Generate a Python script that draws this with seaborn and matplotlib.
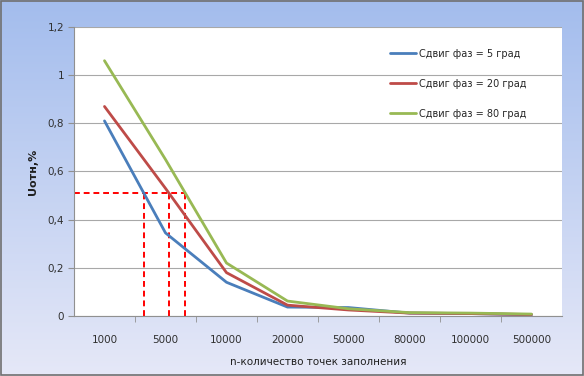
import numpy as np
import pandas as pd
import seaborn as sns
import matplotlib.pyplot as plt
from matplotlib.ticker import FuncFormatter, FixedLocator
from matplotlib.patches import Rectangle

# data
n_labels = ['1000', '5000', '10000', '20000', '50000', '80000', '100000', '500000']
phase_5 = [0.81, 0.345, 0.14, 0.037, 0.035, 0.012, 0.010, 0.005]
phase_20 = [0.87, 0.53, 0.18, 0.045, 0.025, 0.012, 0.010, 0.006]
phase_80 = [1.06, 0.65, 0.22, 0.062, 0.030, 0.014, 0.012, 0.008]
series_names = ['Сдвиг фаз = 5 град', 'Сдвиг фаз = 20 град', 'Сдвиг фаз = 80 град']
level = 0.51

colors = ['#4a7ebb', '#be4b48', '#98b954']


def main():
    sns.set_style('white')
    plt.rcParams['font.family'] = ['DejaVu Sans']

    idx = np.arange(len(n_labels))
    df = pd.DataFrame({
        'x': np.tile(idx, 3),
        'u': phase_5 + phase_20 + phase_80,
        'series': np.repeat(series_names, len(n_labels)),
    })

    fig = plt.figure(figsize=(5.84, 3.76), dpi=100)

    # gradient background
    bg = fig.add_axes([0, 0, 1, 1], zorder=-5)
    grad = np.linspace(0, 1, 256).reshape(-1, 1)
    top = np.array([0.64, 0.74, 0.93])
    bot = np.array([0.90, 0.91, 0.97])
    img = top + (bot - top) * grad[:, :, None]
    bg.imshow(img, aspect='auto', extent=[0, 1, 0, 1])
    bg.set_axis_off()
    fig.patches.append(Rectangle((0.002, 0.003), 0.996, 0.994, transform=fig.transFigure,
                                 fill=False, edgecolor='#707070', lw=1.2))

    ax = fig.add_axes([0.1267, 0.1596, 0.8356, 0.7686])
    ax.set_facecolor('white')
    sns.lineplot(data=df, x='x', y='u', hue='series', hue_order=series_names,
                 palette=colors, linewidth=2.0, ax=ax, legend=True)

    # reference lines at the chosen level
    cross = []
    for vals in (phase_5, phase_20, phase_80):
        cross.append(np.interp(level, np.array(vals)[::-1], idx[::-1]))
    ax.plot([-0.5, max(cross)], [level, level], color='#ff0000', lw=1.4,
            ls=(0, (3, 2)), zorder=1)
    ax.vlines(cross, 0, level, color='#ff0000', lw=1.4, linestyles=(0, (3, 2)), zorder=1)

    ax.set_xlim(-0.5, len(n_labels) - 0.5)
    ax.set_ylim(0, 1.2)
    ax.set_xticks(idx)
    ax.set_xticklabels(n_labels)
    ax.xaxis.set_minor_locator(FixedLocator(idx[:-1] + 0.5))
    ax.tick_params(axis='x', which='major', length=0, pad=14, labelsize=7.5, labelcolor='#303030')
    ax.tick_params(axis='x', which='minor', length=4, color='#909090', direction='out', bottom=True)
    ax.set_yticks(np.arange(0, 1.21, 0.2))
    ax.yaxis.set_major_formatter(FuncFormatter(lambda v, p: f'{v:g}'.replace('.', ',')))
    ax.tick_params(axis='y', length=4, color='#909090', direction='out', left=True,
                   labelsize=7.5, labelcolor='#303030', pad=3)
    ax.grid(axis='y', color='#a8a8a8', lw=0.8)
    ax.set_axisbelow(True)

    for s in ['top', 'right']:
        ax.spines[s].set_visible(False)
    for s in ['left', 'bottom']:
        ax.spines[s].set_color('#909090')
        ax.spines[s].set_linewidth(0.8)

    ax.set_xlabel('n-количество точек заполнения', fontsize=7.5, color='#202020', labelpad=8)
    ax.set_ylabel('Uотн,%', fontsize=8, color='#202020', fontweight='bold', labelpad=7)

    leg = ax.legend(loc='upper left', bbox_to_anchor=(0.63, 0.955), frameon=False,
                    fontsize=7, handlelength=2.7, handletextpad=0.3, labelspacing=2.05)
    for line in leg.get_lines():
        line.set_linewidth(2.0)

    fig.savefig('out.png', dpi=100)


if __name__ == '__main__':
    main()
